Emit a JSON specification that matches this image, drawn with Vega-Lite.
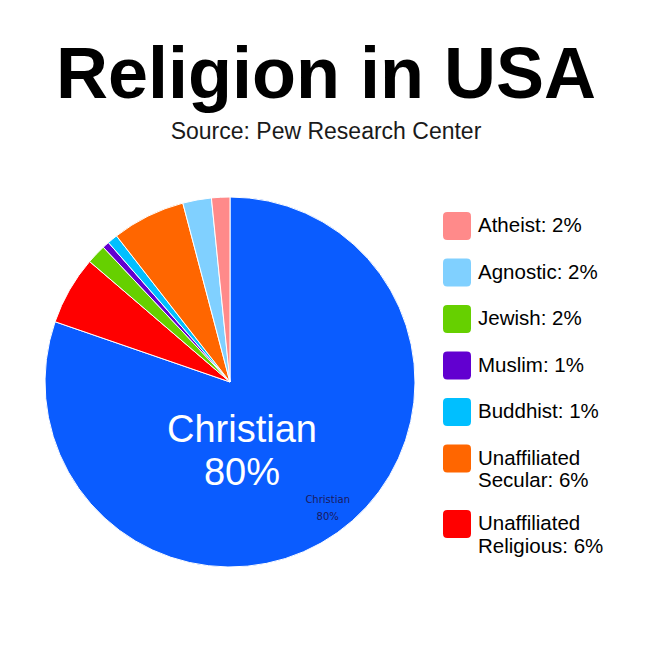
{
  "$schema": "https://vega.github.io/schema/vega-lite/v6.json",
  "autosize": "none",
  "width": 370,
  "height": 370,
  "padding": {"left": 45, "top": 197, "right": 235, "bottom": 83},
  "background": "white",
  "title": {
    "text": "Religion in USA",
    "subtitle": "Source: Pew Research Center",
    "anchor": "middle",
    "dx": 96,
    "font": "Liberation Sans",
    "fontSize": 72,
    "fontWeight": "bold",
    "color": "black",
    "subtitleFont": "Liberation Sans",
    "subtitleFontSize": 23,
    "subtitleColor": "#1a1a1a",
    "subtitlePadding": 8,
    "offset": 50
  },
  "data": {
    "values": [
      {"name": "Christian", "value": 80.2, "legend": "Christian: 80%", "label": "Christian 80%", "order": 1},
      {"name": "Unaffiliated Religious", "value": 6.0, "legend": "Unaffiliated Religious: 6%", "label": "", "order": 2},
      {"name": "Jewish", "value": 1.7, "legend": "Jewish: 2%", "label": "", "order": 3},
      {"name": "Muslim", "value": 0.6, "legend": "Muslim: 1%", "label": "", "order": 4},
      {"name": "Buddhist", "value": 0.9, "legend": "Buddhist: 1%", "label": "", "order": 5},
      {"name": "Unaffiliated Secular", "value": 6.4, "legend": "Unaffiliated Secular: 6%", "label": "", "order": 6},
      {"name": "Agnostic", "value": 2.5, "legend": "Agnostic: 2%", "label": "", "order": 7},
      {"name": "Atheist", "value": 1.6, "legend": "Atheist: 2%", "label": "", "order": 8}
    ]
  },
  "layer": [
    {
      "mark": {"type": "arc", "stroke": "white", "strokeWidth": 1},
      "encoding": {
        "theta": {"field": "value", "type": "quantitative", "stack": true},
        "order": {"field": "order", "type": "quantitative"},
        "color": {
          "field": "legend",
          "type": "nominal",
          "scale": {
            "domain": ["Atheist: 2%", "Agnostic: 2%", "Jewish: 2%", "Muslim: 1%", "Buddhist: 1%", "Unaffiliated Secular: 6%", "Unaffiliated Religious: 6%", "Christian: 80%"],
            "range": ["#ff8a8a", "#80d0ff", "#66d000", "#6200d0", "#00bfff", "#ff6600", "#ff0000", "#0a5cff"]
          },
          "legend": {
            "title": null,
            "orient": "none",
            "legendX": 398,
            "legendY": 15,
            "padding": 0,
            "values": ["Atheist: 2%", "Agnostic: 2%", "Jewish: 2%", "Muslim: 1%", "Buddhist: 1%", "Unaffiliated Secular: 6%", "Unaffiliated Religious: 6%"],
            "symbolType": "M -0.7 -1 L 0.7 -1 Q 1 -1 1 -0.7 L 1 0.7 Q 1 1 0.7 1 L -0.7 1 Q -1 1 -1 0.7 L -1 -0.7 Q -1 -1 -0.7 -1 Z",
            "symbolSize": 784,
            "symbolStrokeWidth": 0,
            "symbolOpacity": 1,
            "labelFont": "Liberation Sans",
            "labelFontSize": 20.5,
            "labelColor": "black",
            "labelOffset": 7,
            "labelLimit": 300,
            "rowPadding": 18.5,
            "labelExpr": "indexof(datum.label, 'Unaffiliated ') == 0 ? ['Unaffiliated', substring(datum.label, 13)] : datum.label"
          }
        }
      }
    },
    {
      "mark": {"type": "text", "radius": 50.4, "thetaOffset": 0.379, "font": "Liberation Sans", "fontSize": 38, "color": "white", "align": "center", "baseline": "middle", "lineBreak": " ", "lineHeight": 43},
      "encoding": {
        "theta": {"field": "value", "type": "quantitative", "stack": true},
        "order": {"field": "order", "type": "quantitative"},
        "text": {"field": "label", "type": "nominal"}
      }
    },
    {
      "mark": {"type": "text", "radius": 153, "thetaOffset": -0.073, "font": "DejaVu Sans", "fontSize": 10, "color": "#1a1a5e", "align": "center", "baseline": "middle", "lineBreak": " ", "lineHeight": 17},
      "encoding": {
        "theta": {"field": "value", "type": "quantitative", "stack": true},
        "order": {"field": "order", "type": "quantitative"},
        "text": {"field": "label", "type": "nominal"}
      }
    }
  ],
  "config": {"view": {"stroke": null}}
}
